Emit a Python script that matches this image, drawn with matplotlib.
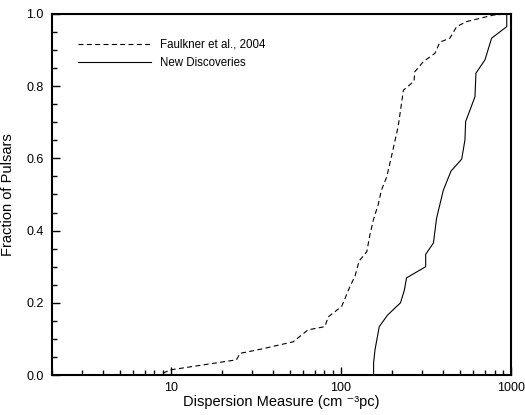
import matplotlib
matplotlib.use("Agg")
import matplotlib.pyplot as plt
from matplotlib.ticker import FixedLocator, NullFormatter, MultipleLocator, FormatStrFormatter

plt.rcParams['font.family'] = ['Liberation Sans', 'DejaVu Sans']
plt.rcParams['lines.scale_dashes'] = False

# Faulkner et al., 2004 (dashed) cumulative distribution
faulkner_dm = [9.0, 9.87, 24.3, 25.5, 33.4, 52.4, 64, 80.5, 84.2, 101, 113, 121, 128,
               142, 148, 155, 166, 173, 186, 199, 217, 233, 269, 272, 305, 357, 382,
               437, 479, 548, 787, 944]
faulkner_frac = [0.005, 0.014, 0.042, 0.060, 0.071, 0.092, 0.125, 0.134, 0.161, 0.190,
                 0.245, 0.274, 0.316, 0.342, 0.388, 0.429, 0.474, 0.512, 0.549, 0.609,
                 0.688, 0.789, 0.814, 0.840, 0.868, 0.891, 0.922, 0.933, 0.965, 0.979,
                 0.997, 1.0]

# New Discoveries (solid) cumulative distribution
new_dm = [155.6, 155.6, 158.5, 168, 188, 224, 236, 243, 315, 315, 350, 365, 400, 444,
          513, 536, 541, 574, 614, 622, 703, 769, 944, 944]
new_frac = [0.0, 0.033, 0.069, 0.134, 0.166, 0.200, 0.235, 0.269, 0.300, 0.334, 0.366,
            0.434, 0.512, 0.565, 0.598, 0.651, 0.702, 0.734, 0.771, 0.836, 0.873, 0.933,
            0.965, 1.0]

x_ticks = [10, 100, 1000]
x_ticklabels = ["10", "100", "1000"]

fig = plt.figure(figsize=(5.25, 4.15), dpi=100)
ax = fig.add_axes([52/525, 1 - 375/415, (511 - 52)/525, (375 - 14)/415])

ax.plot(faulkner_dm, faulkner_frac, color='black', lw=0.8, dashes=(3.6, 2.4),
        label='Faulkner et al., 2004')
ax.plot(new_dm, new_frac, color='black', lw=0.8, label='New Discoveries')

ax.set_xscale('log')
ax.set_xlim(2, 1000)
ax.set_ylim(0, 1.0)
ax.xaxis.set_major_locator(FixedLocator(x_ticks))
ax.set_xticklabels(x_ticklabels)
minor = [m * 10**d for d in range(0, 3) for m in range(2, 10)]
ax.xaxis.set_minor_locator(FixedLocator([v for v in minor if 2 <= v <= 1000]))
ax.xaxis.set_minor_formatter(NullFormatter())
ax.yaxis.set_major_locator(MultipleLocator(0.2))
ax.yaxis.set_minor_locator(MultipleLocator(0.05))
ax.yaxis.set_major_formatter(FormatStrFormatter('%.1f'))

ax.tick_params(which='both', direction='in', top=False, right=False, labelsize=9,
               width=1.0)
ax.tick_params(which='major', length=6, pad=6)
ax.tick_params(axis='x', which='major', pad=5)
ax.tick_params(which='minor', length=3.5)
for s in ax.spines.values():
    s.set_linewidth(1.5)

ax.set_xlabel('Dispersion Measure (cm \u207b\u00b3pc)', fontsize=10.5)
ax.xaxis.set_label_coords(0.5, -0.056)
ax.set_ylabel('Fraction of Pulsars', fontsize=10.5, labelpad=8)

leg = ax.legend(loc='upper left', frameon=False, fontsize=8.3, handlelength=6.3,
                handletextpad=0.8, labelspacing=0.5, bbox_to_anchor=(0.035, 0.96))

fig.savefig('out.png', dpi=100)
